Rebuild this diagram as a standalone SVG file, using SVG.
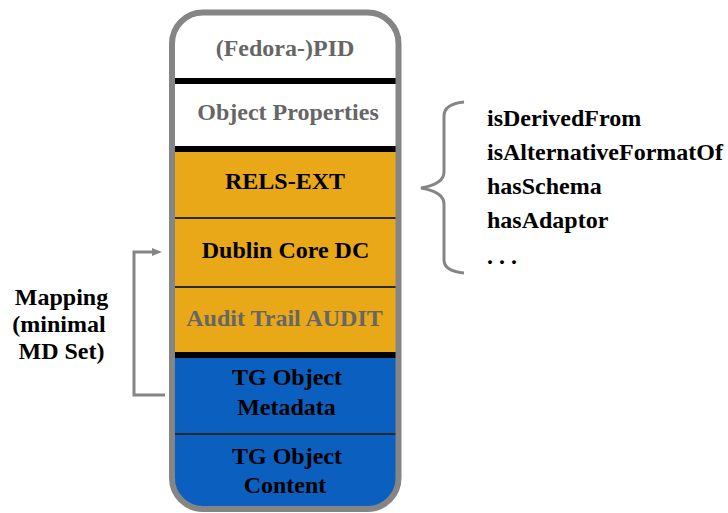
<svg xmlns="http://www.w3.org/2000/svg" width="728" height="513" viewBox="0 0 728 513">
  <style>
    text { font-family: "Liberation Serif", "Times New Roman", serif; font-weight: bold; font-size: 24px; }
    .lbl { text-anchor: middle; }
    .dark { fill: #000000; }
    .muted { fill: #666666; }
    .white { fill: #ffffff; }
    .orange { fill: #E8A817; }
    .blue { fill: #0B5FBE; }
    .sep { fill: #000000; }
    .thin { fill: #2a2a2a; }
    .conn { fill: none; stroke: #858585; stroke-width: 3; }
  </style>
  <defs>
    <clipPath id="stackClip">
      <rect x="172" y="12.5" width="226.5" height="496.5" rx="31" ry="31"/>
    </clipPath>
    <marker id="arrowHead" markerWidth="10" markerHeight="10" refX="2" refY="4" orient="auto" markerUnits="userSpaceOnUse" viewBox="0 0 10 8">
      <path d="M0,0 L10,4 L0,8 Z" fill="#858585"/>
    </marker>
  </defs>

  <rect width="728" height="513" fill="#ffffff"/>

  <!-- stacked object layers -->
  <g clip-path="url(#stackClip)">
    <g id="pid">
      <rect class="white" x="172" y="10" width="228" height="68"/>
      <text class="lbl muted" x="285" y="56">(Fedora-)PID</text>
    </g>
    <rect class="sep" x="172" y="78" width="228" height="6"/>
    <g id="object-properties">
      <rect class="white" x="172" y="84" width="228" height="62"/>
      <text class="lbl muted" x="288" y="120">Object Properties</text>
    </g>
    <rect class="sep" x="172" y="146" width="228" height="6"/>
    <g id="rels-ext">
      <rect class="orange" x="172" y="152" width="228" height="65"/>
      <text class="lbl dark" x="285" y="189">RELS-EXT</text>
    </g>
    <rect class="thin" x="172" y="217" width="228" height="2"/>
    <g id="dublin-core">
      <rect class="orange" x="172" y="219" width="228" height="67"/>
      <text class="lbl dark" x="285.5" y="258">Dublin Core DC</text>
    </g>
    <rect class="thin" x="172" y="286" width="228" height="2"/>
    <g id="audit-trail">
      <rect class="orange" x="172" y="288" width="228" height="64"/>
      <text class="lbl muted" x="284.5" y="326">Audit Trail AUDIT</text>
    </g>
    <rect class="sep" x="172" y="352" width="228" height="6"/>
    <g id="tg-metadata">
      <rect class="blue" x="172" y="358" width="228" height="75"/>
      <text class="lbl dark" x="287" y="385">TG Object</text>
      <text class="lbl dark" x="286.5" y="415">Metadata</text>
    </g>
    <rect class="thin" x="172" y="433" width="228" height="2"/>
    <g id="tg-content">
      <rect class="blue" x="172" y="435" width="228" height="80"/>
      <text class="lbl dark" x="287" y="464">TG Object</text>
      <text class="lbl dark" x="285" y="493">Content</text>
    </g>
  </g>
  <rect id="stack-frame" x="172" y="12.5" width="226.5" height="496.5" rx="31" ry="31" fill="none" stroke="#858585" stroke-width="6"/>

  <!-- relation list for RELS-EXT -->
  <g id="relations">
    <text class="dark" x="487" y="126">isDerivedFrom</text>
    <text class="dark" x="487" y="160">isAlternativeFormatOf</text>
    <text class="dark" x="487" y="194">hasSchema</text>
    <text class="dark" x="487" y="228">hasAdaptor</text>
    <text class="dark" x="487" y="264">. . .</text>
  </g>

  <!-- mapping label -->
  <g id="mapping">
    <text class="lbl dark" x="61.5" y="305">Mapping</text>
    <text class="lbl dark" x="59" y="332">(minimal</text>
    <text class="lbl dark" x="61.5" y="359">MD Set)</text>
  </g>

  <!-- connectors -->
  <g id="connectors">
    <path class="conn" d="M165,395 L134,395 L134,252 L154,252" marker-end="url(#arrowHead)"/>
    <path class="conn" d="M464,102 Q444,104 444,116 L444,172 Q444,184 421,188 Q444,192 444,204 L444,260 Q444,271 464,273"/>
  </g>
</svg>
